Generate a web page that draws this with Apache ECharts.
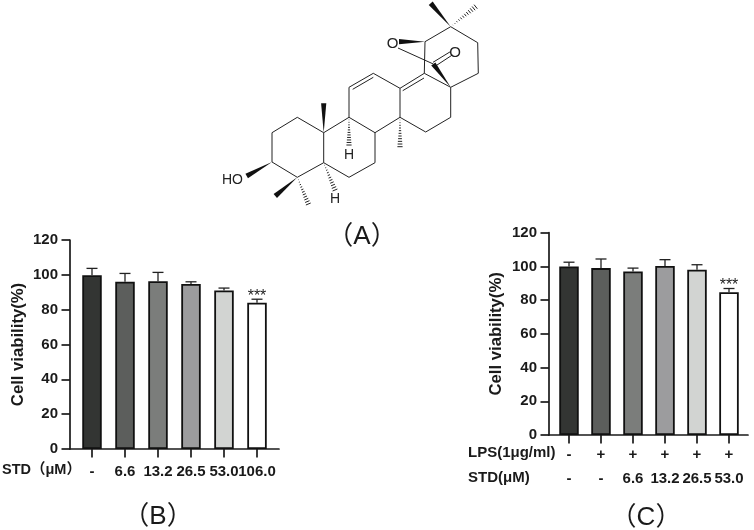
<!DOCTYPE html>
<html><head><meta charset="utf-8"><style>html,body{margin:0;background:#fff}#c{width:754px;height:530px}</style>
<script src="https://cdn.jsdelivr.net/npm/echarts@6/dist/echarts.min.js"></script></head><body><div id="c"></div>
<script>
const barColors=['#333533','#5c5e5c','#7b7d7b','#9c9c9e','#d2d4d2','#ffffff'];
const catsB=['-','6.6','13.2','26.5','53.0','106.0'];
const valsB=[99.8,96,96.3,94.8,91,84];
const errB=[103.7,100.8,101.4,96,92.4,86];
const lpsC=['-','+','+','+','+','+'];
const stdC=['-','-','6.6','13.2','26.5','53.0'];
const valsC=[100,99,97,100.3,98,84.7];
const errC=[102.5,104.4,99,104,101,86.9];
const sigIndex=5, sigText='***';
const yTicks={min:0,max:120,interval:20};

// structure (A): node positions on the reference picture, bonds between them
const N={a1:[272,162],a2:[272,132.7],a3:[297.3,117.3],a4:[323.7,132.7],a5:[323.7,162.7],a6:[297.3,177.3],
a7:[349,117.3],a8:[375,132.7],a9:[375,162.7],a10:[349,177.3],a11:[349,87.3],a12:[373.3,73.3],a13:[400,88.3],a14:[400,117.3],
a15:[424.3,73.3],a16:[450.7,87.3],a17:[450.7,117.3],a18:[425.7,132],a19:[425,41.7],a20:[450.7,26.7],a21:[477.7,42.7],a22:[478.3,73.3],
cc:[433.3,64],
o1:[398,48],oc1:[450,52],oc2:[451.5,55.5]};
const bonds=[['a1','a2'],['a2','a3'],['a3','a4'],['a4','a5'],['a5','a6'],['a6','a1'],['a4','a7'],['a7','a8'],['a8','a9'],['a9','a10'],['a10','a5'],
['a7','a11'],['a11','a12'],['a12','a13'],['a13','a14'],['a14','a8'],['a13','a15'],['a15','a16'],['a16','a17'],['a17','a18'],['a18','a14'],
['a16','a22'],['a22','a21'],['a21','a20'],['a20','a19'],['a19','a15'],['o1','cc']];
const extraLines=[[[352.7,89.3],[373.3,77.3]],[[402.7,90.7],[424,78]],[[433,62.3],[450.3,51.7]],[[436,65.7],[452.3,55]]];
const wedges=[['a1',[246.7,176]],['a6',[275.3,196]],['a4',[323.7,103.3]],['a20',[430.7,3.3]],['a19',[399,41.7]],['a16','cc']];
const hashes=[['a6',[308.3,204]],['a5',[335,190]],['a7',[349,145]],['a14',[400,146.7]],['a20',[475.7,6.7]]];
const atomLabels=[['HO',232.5,180,14],['H',349,155,14],['H',335,199,14],['O',392.5,43.5,15],['O',455,52.5,15]];

const P=k=>typeof k==='string'?N[k]:k;
const mol=[];
const ln=(p,q)=>mol.push({type:'line',shape:{x1:p[0],y1:p[1],x2:q[0],y2:q[1]},style:{stroke:'#222',lineWidth:1}});
bonds.forEach(b=>ln(P(b[0]),P(b[1])));
extraLines.forEach(l=>ln(l[0],l[1]));
wedges.forEach(w=>{const a=P(w[0]),b=P(w[1]);const dx=b[0]-a[0],dy=b[1]-a[1],L=Math.hypot(dx,dy),nx=-dy/L*2.6,ny=dx/L*2.6;
 mol.push({type:'polygon',shape:{points:[a,[b[0]+nx,b[1]+ny],[b[0]-nx,b[1]-ny]]},style:{fill:'#111'}});});
hashes.forEach(w=>{const a=P(w[0]),b=P(w[1]);const dx=b[0]-a[0],dy=b[1]-a[1],L=Math.hypot(dx,dy);const n=Math.round(L/2.6);
 for(let i=1;i<=n;i++){const t=i/n,h=t*2.6,px=a[0]+dx*t,py=a[1]+dy*t;ln([px-dy/L*h,py+dx/L*h],[px+dy/L*h,py-dx/L*h]);}});
atomLabels.forEach(t=>mol.push({type:'text',style:{text:t[0],x:t[1],y:t[2],align:'center',verticalAlign:'middle',font:t[3]+'px "Liberation Sans"',fill:'#222'}}));

const cjk='"Liberation Sans","Noto Sans CJK SC"';
const txt=(s,x,y,o)=>({type:'text',style:Object.assign({text:s,x,y,verticalAlign:'middle',font:'bold 15px '+cjk,fill:'#1a1a1a'},o||{})});
const graphics=mol.concat([
 txt('（A）',362,237,{align:'center',font:'26px '+cjk}),
 txt('（B）',158,517,{align:'center',font:'26px '+cjk}),
 txt('（C）',646,518,{align:'center',font:'26px '+cjk}),
 txt('STD（μM）',2,470,{font:'bold 14.5px '+cjk}),
 txt('LPS(1μg/ml)',468,452.5),
 txt('STD(μM)',468,477.5)
]);

const axisLine={show:true,lineStyle:{color:'#1a1a1a',width:1.7}};
const axisTick={show:true,length:8.5,lineStyle:{color:'#1a1a1a',width:1.7}};
const labelBold={color:'#1a1a1a',fontWeight:'bold',fontSize:15,fontFamily:'Liberation Sans'};
const nameStyle={color:'#1a1a1a',fontWeight:'bold',fontSize:16.7,fontFamily:'Liberation Sans'};

function errSeries(xi,yi,vals,errs){
 return {type:'custom',xAxisIndex:xi,yAxisIndex:yi,silent:true,z:3,clip:false,
  data:errs.map((e,i)=>[i,vals[i],e]),encode:{x:0,y:[1,2]},
  renderItem(p,api){const a=api.coord([api.value(0),api.value(1)]),b=api.coord([api.value(0),api.value(2)]);
   const st={stroke:'#222',lineWidth:1.3},ch=[
    {type:'line',shape:{x1:a[0],y1:a[1],x2:a[0],y2:b[1]},style:st},
    {type:'line',shape:{x1:a[0]-5.5,y1:b[1],x2:a[0]+5.5,y2:b[1]},style:st}];
   if(api.value(0)===sigIndex)ch.push({type:'text',style:{text:sigText,x:a[0],y:b[1]+5,align:'center',verticalAlign:'bottom',font:'16px "Liberation Sans"',fill:'#222'}});
   return {type:'group',children:ch};}};
}
function barSeries(xi,yi,vals){
 return {type:'bar',xAxisIndex:xi,yAxisIndex:yi,barWidth:19.5,silent:true,
  data:vals.map((v,i)=>({value:v,itemStyle:{color:barColors[i]}})),
  itemStyle:{borderColor:'#111',borderWidth:1.8}};
}
const plain={show:false};
const option={animation:false,backgroundColor:'#fff',graphic:graphics,
 grid:[
  {left:75.5,width:198,top:240,height:209},
  {left:553,width:192,top:232.7,height:202.3},
  {left:70,width:209,top:240,height:209},
  {left:549,width:199,top:232.7,height:202.3}],
 xAxis:[
  {type:'category',gridIndex:0,data:catsB,axisLine:plain,axisTick:Object.assign({alignWithLabel:true},axisTick),
   axisLabel:Object.assign({interval:0,margin:15,hideOverlap:false},labelBold)},
  {type:'category',gridIndex:1,data:lpsC.map((l,i)=>l+'\n'+stdC[i]),axisLine:plain,axisTick:Object.assign({alignWithLabel:true},axisTick),
   axisLabel:Object.assign({interval:0,margin:7.5,lineHeight:24.5},labelBold)},
  {type:'value',gridIndex:2,axisLine:axisLine,axisTick:plain,axisLabel:plain,splitLine:plain},
  {type:'value',gridIndex:3,axisLine:axisLine,axisTick:plain,axisLabel:plain,splitLine:plain}],
 yAxis:[
  Object.assign({type:'value',gridIndex:0,offset:5.5,name:'Cell viability(%)',nameLocation:'middle',nameGap:43,nameMoveOverlap:false,nameTextStyle:nameStyle,axisLine,axisTick,axisLabel:Object.assign({margin:12},labelBold),splitLine:plain},yTicks),
  Object.assign({type:'value',gridIndex:1,offset:4,name:'Cell viability(%)',nameLocation:'middle',nameGap:44,nameMoveOverlap:false,nameTextStyle:nameStyle,axisLine,axisTick,axisLabel:Object.assign({margin:12},labelBold),splitLine:plain},yTicks),
  {type:'value',gridIndex:2,show:false},
  {type:'value',gridIndex:3,show:false}],
 series:[barSeries(0,0,valsB),errSeries(0,0,valsB,errB),barSeries(1,1,valsC),errSeries(1,1,valsC,errC)]
};
const ch=echarts.init(document.getElementById('c'),null,{renderer:'canvas'});
ch.setOption(option);
</script></body></html>
